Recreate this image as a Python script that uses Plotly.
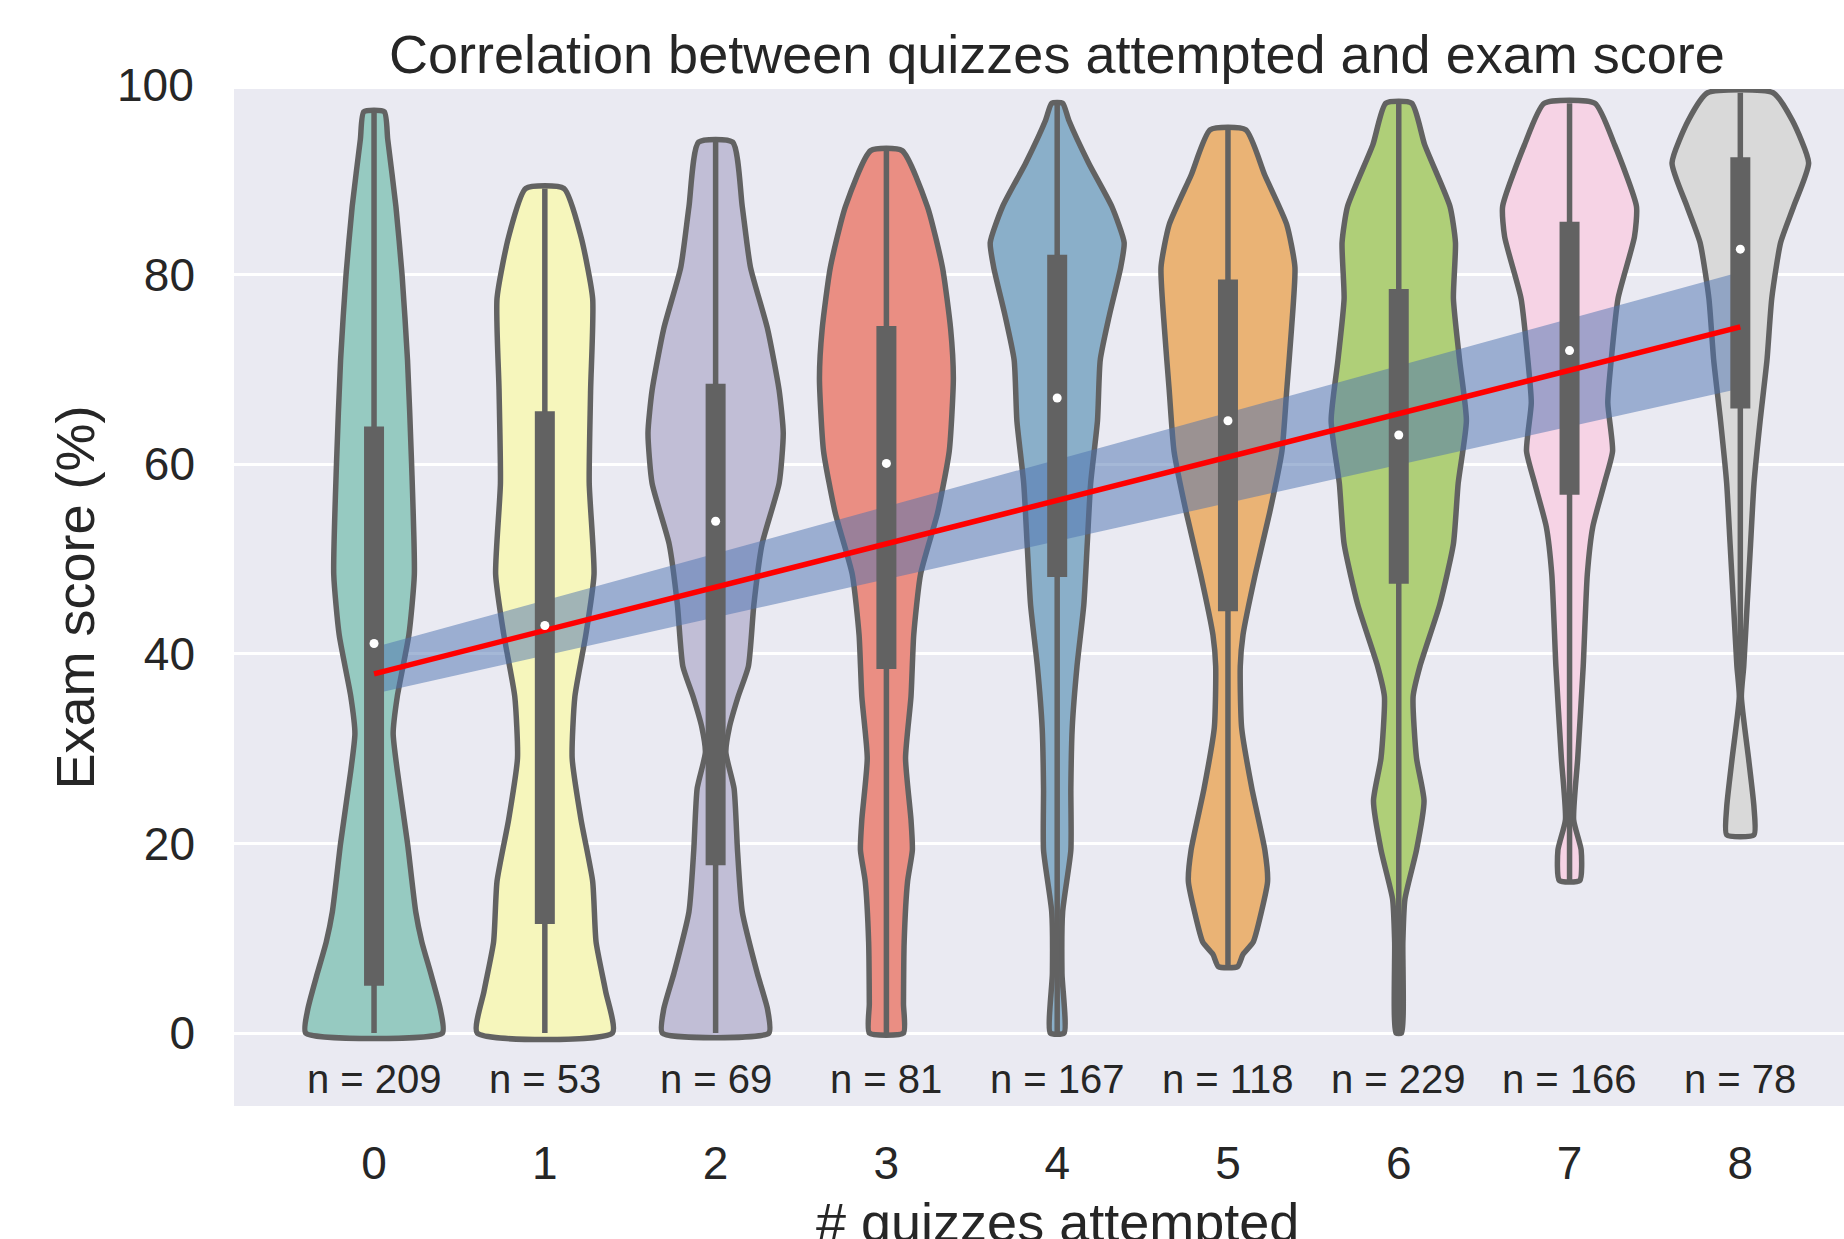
import colorsys
import plotly.graph_objects as go

# ---------------- data ----------------
quizzes = [0, 1, 2, 3, 4, 5, 6, 7, 8]
tick_labels = ["0", "1", "2", "3", "4", "5", "6", "7", "8"]
y_ticks = [0, 20, 40, 60, 80, 100]
counts = [209, 53, 69, 81, 167, 118, 229, 166, 78]

# violin outlines: score levels and relative half-width (1 = widest point)
scores_q0 = [0, 2.5, 6.3, 9.6, 12.8, 20, 27.7, 31.6, 35.5, 42, 48.4, 60, 71, 80, 87.2, 94.3, 97.2]
widths_q0 = [1.0, 0.97, 0.83, 0.70, 0.61, 0.49, 0.34, 0.28, 0.34, 0.51, 0.59, 0.55, 0.49, 0.41, 0.32, 0.2, 0.15]

scores_q1 = [0, 4.4, 9.6, 16, 22.5, 29, 35.5, 42, 48.4, 58, 67.8, 77.5, 84, 89.1]
widths_q1 = [0.99, 0.89, 0.75, 0.70, 0.53, 0.40, 0.44, 0.60, 0.72, 0.65, 0.67, 0.70, 0.53, 0.28]

scores_q2 = [0, 2.5, 6.3, 12.8, 19.3, 25.8, 29.6, 32.2, 35.5, 38.7, 45.2, 51.6, 58, 63.3, 67.8, 74.3, 80.8, 87.2, 94.0]
widths_q2 = [0.78, 0.76, 0.61, 0.39, 0.32, 0.27, 0.15, 0.20, 0.33, 0.48, 0.56, 0.68, 0.93, 0.99, 0.93, 0.76, 0.51, 0.39, 0.25]

scores_q3 = [0, 3.1, 9.6, 16, 19.3, 22.5, 29, 35.5, 42, 48.4, 54.9, 61.4, 69.1, 74.3, 80.8, 87.2, 93.1]
widths_q3 = [0.25, 0.25, 0.26, 0.31, 0.38, 0.36, 0.28, 0.36, 0.40, 0.50, 0.75, 0.92, 0.98, 0.94, 0.82, 0.60, 0.23]

scores_q4 = [0, 6.3, 12.8, 19.3, 25.8, 32.2, 38.7, 45.2, 51.6, 58, 64.6, 71, 75.6, 80.8, 83.4, 87.2, 91.8, 96.3, 98.1]
widths_q4 = [0.10, 0.07, 0.08, 0.20, 0.20, 0.22, 0.29, 0.39, 0.44, 0.49, 0.59, 0.63, 0.76, 0.93, 0.98, 0.80, 0.46, 0.17, 0.08]

scores_q5 = [7.0, 8.3, 9.6, 12.8, 16, 19.3, 25.8, 32.2, 38.7, 42, 48.4, 54.9, 61.4, 67.8, 74.3, 80.8, 85.3, 90.5, 95.3]
widths_q5 = [0.14, 0.22, 0.37, 0.49, 0.58, 0.54, 0.35, 0.20, 0.18, 0.22, 0.40, 0.61, 0.79, 0.86, 0.93, 0.98, 0.86, 0.54, 0.26]

scores_q6 = [0, 9.6, 14.1, 19.3, 24.5, 29, 35.5, 38.7, 45.2, 51.6, 58, 64.6, 71, 77.5, 83.4, 87.2, 93.7, 98.1]
widths_q6 = [0.04, 0.06, 0.09, 0.26, 0.37, 0.26, 0.21, 0.31, 0.60, 0.80, 0.87, 0.99, 0.89, 0.80, 0.83, 0.75, 0.38, 0.19]

scores_q7 = [16.1, 19.3, 22.5, 29, 38.7, 48.4, 53.4, 58, 61.4, 66.5, 71, 77.5, 84, 87.2, 93.7, 98.1]
widths_q7 = [0.15, 0.17, 0.06, 0.12, 0.20, 0.26, 0.34, 0.51, 0.63, 0.56, 0.61, 0.71, 0.95, 0.98, 0.66, 0.37]

scores_q8 = [20.9, 23.8, 29, 35.5, 38.7, 45.2, 51.6, 58, 64.6, 71, 77.5, 83.4, 87.2, 91.8, 96.3, 99.2]
widths_q8 = [0.20, 0.20, 0.12, 0.015, 0.05, 0.10, 0.15, 0.20, 0.29, 0.39, 0.46, 0.59, 0.78, 1.0, 0.76, 0.48]

# inner box statistics
q1_scores = [5.0, 11.5, 17.7, 38.4, 48.1, 44.5, 47.4, 56.8, 65.9]
q3_scores = [64.0, 65.6, 68.5, 74.6, 82.1, 79.5, 78.5, 85.6, 92.4]
median_scores = [41.1, 43.0, 54.0, 60.1, 67.0, 64.6, 63.1, 72.0, 82.7]
whisker_low = [0, 0, 0, 0, 0, 7.0, 0, 16.1, 36.8]
whisker_high = [97.2, 89.1, 94.0, 93.1, 98.1, 95.3, 98.1, 98.1, 99.2]

# regression line and its confidence band
fit_x = [0, 8]
fit_y = [37.9, 74.5]
band_upper = [40.7, 80.3]
band_lower = [35.8, 68.0]

# ---------------- styles ----------------
set3 = ["#8dd3c7", "#ffffb3", "#bebada", "#fb8072", "#80b1d3",
        "#fdb462", "#b3de69", "#fccde5", "#d9d9d9"]


def desaturate(hexcol, prop=0.75):
    r, g, b = (int(hexcol[i:i + 2], 16) / 255 for i in (1, 3, 5))
    h, l, s = colorsys.rgb_to_hls(r, g, b)
    r, g, b = colorsys.hls_to_rgb(h, l, s * prop)
    return "#%02x%02x%02x" % (round(r * 255), round(g * 255), round(b * 255))


fills = [desaturate(c) for c in set3]
GRAY = "#626262"
TEXT = "#262626"
FONT = "Liberation Sans, Arial, sans-serif"
HALF = 0.4
LW = 5.5
Y_RANGE = [-7.7, 99.6]

profiles = [
    (scores_q0, widths_q0), (scores_q1, widths_q1), (scores_q2, widths_q2),
    (scores_q3, widths_q3), (scores_q4, widths_q4), (scores_q5, widths_q5),
    (scores_q6, widths_q6), (scores_q7, widths_q7), (scores_q8, widths_q8),
]

fig = go.Figure()

# violins
for k, (sc, wd) in zip(quizzes, profiles):
    xs = [k + HALF * w for w in wd] + [k - HALF * w for w in reversed(wd)] + [k + HALF * wd[0]]
    ys = list(sc) + list(reversed(sc)) + [sc[0]]
    fig.add_trace(go.Scatter(
        x=xs, y=ys, mode="lines", fill="toself", fillcolor=fills[k],
        line=dict(color=GRAY, width=LW, shape="spline", smoothing=0.55),
        hoverinfo="skip", showlegend=False))

# confidence band
fig.add_trace(go.Scatter(
    x=[fit_x[0], fit_x[1], fit_x[1], fit_x[0], fit_x[0]],
    y=[band_lower[0], band_lower[1], band_upper[1], band_upper[0], band_lower[0]],
    mode="lines", fill="toself", fillcolor="rgba(76,114,176,0.5)",
    line=dict(width=0), hoverinfo="skip", showlegend=False))

# whiskers
wx, wy = [], []
for k in quizzes:
    wx += [k, k, None]
    wy += [whisker_low[k], whisker_high[k], None]
fig.add_trace(go.Scatter(x=wx, y=wy, mode="lines",
                         line=dict(color=GRAY, width=LW),
                         hoverinfo="skip", showlegend=False))

# boxes
bx, by = [], []
for k in quizzes:
    bx += [k, k, None]
    by += [q1_scores[k], q3_scores[k], None]
fig.add_trace(go.Scatter(x=bx, y=by, mode="lines",
                         line=dict(color=GRAY, width=20),
                         hoverinfo="skip", showlegend=False))

# regression line
fig.add_trace(go.Scatter(x=fit_x, y=fit_y, mode="lines",
                         line=dict(color="#ff0000", width=5.5),
                         hoverinfo="skip", showlegend=False))

# medians
fig.add_trace(go.Scatter(x=quizzes, y=median_scores, mode="markers",
                         marker=dict(color="white", size=9, line=dict(width=0)),
                         hoverinfo="skip", showlegend=False))

# n = ... labels
for k in quizzes:
    fig.add_annotation(x=k, y=-4.9, xref="x", yref="y", text=f"n = {counts[k]}",
                       showarrow=False, xanchor="center", yanchor="middle",
                       font=dict(family=FONT, size=40, color=TEXT))

# top tick label (100 sits just above the visible y range)
top_tick = y_ticks[-1]
fig.add_annotation(x=-38 / 1610,
                   y=(top_tick - Y_RANGE[0]) / (Y_RANGE[1] - Y_RANGE[0]),
                   xref="paper", yref="paper",
                   text=str(top_tick), showarrow=False,
                   xanchor="right", yanchor="middle",
                   font=dict(family=FONT, size=46, color=TEXT))

# title
fig.add_annotation(x=4, y=(1106 - 54) / 1017, xref="x", yref="paper",
                   text="Correlation between quizzes attempted and exam score",
                   showarrow=False, xanchor="center", yanchor="middle",
                   font=dict(family=FONT, size=54, color=TEXT))

# x-axis title
fig.add_annotation(x=4, y=(1106 - 1222) / 1017, xref="x", yref="paper",
                   text="# quizzes attempted", showarrow=False,
                   xanchor="center", yanchor="middle",
                   font=dict(family=FONT, size=54, color=TEXT))

# y-axis title
fig.add_annotation(x=(74 - 234) / 1610, y=0.5, xref="paper", yref="paper",
                   text="Exam score (%)", textangle=-90, showarrow=False,
                   xanchor="center", yanchor="middle",
                   font=dict(family=FONT, size=54, color=TEXT))

fig.update_layout(
    width=1844, height=1239,
    margin=dict(l=234, r=0, t=89, b=133, pad=0),
    plot_bgcolor="#EAEAF2", paper_bgcolor="white",
    showlegend=False,
    font=dict(family=FONT, color=TEXT),
)
fig.update_xaxes(range=[-0.82, 8.607], tickvals=quizzes, ticktext=tick_labels,
                 showgrid=False, zeroline=False, showline=False, ticks="",
                 tickfont=dict(family=FONT, size=46, color=TEXT),
                 ticklabelstandoff=26, fixedrange=True)
fig.update_yaxes(range=Y_RANGE, tickvals=y_ticks,
                 showgrid=True, gridcolor="white", gridwidth=3,
                 zeroline=False, showline=False, ticks="",
                 tickfont=dict(family=FONT, size=46, color=TEXT),
                 ticklabelstandoff=38, fixedrange=True)

fig.write_html("out.html", config={"displayModeBar": False})
